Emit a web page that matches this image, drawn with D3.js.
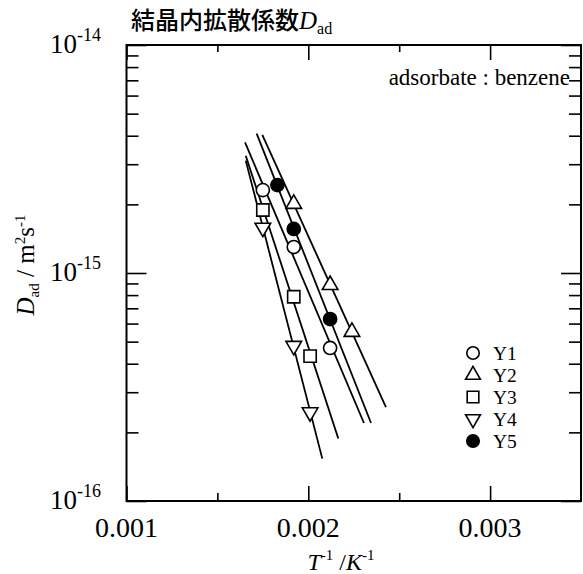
<!DOCTYPE html>
<html>
<head>
<meta charset="utf-8">
<script src="https://cdn.jsdelivr.net/npm/d3@7"></script>
<style>
  html, body { margin: 0; padding: 0; background: #fff; }
  svg { display: block; }
  .serif { font-family: "Liberation Serif", "DejaVu Serif", serif; }
</style>
</head>
<body>
<svg id="chart" width="583" height="574"></svg>
<script>
// Inverse temperature (1/T, K^-1) and intracrystalline diffusivity D_ad (m^2/s)
const seriesNames = ["Y1", "Y2", "Y3", "Y4", "Y5"];
const y1InvT = [0.00175, 0.00192, 0.00212];
const y1D    = [2.31e-15, 1.30e-15, 4.69e-16];
const y2InvT = [0.00192, 0.00212, 0.00224];
const y2D    = [2.01e-15, 8.86e-16, 5.52e-16];
const y3InvT = [0.00175, 0.00192, 0.00201];
const y3D    = [1.89e-15, 7.87e-16, 4.32e-16];
const y4InvT = [0.00175, 0.00192, 0.00201];
const y4D    = [1.58e-15, 4.79e-16, 2.45e-16];
const y5InvT = [0.00183, 0.00192, 0.00212];
const y5D    = [2.43e-15, 1.56e-15, 6.28e-16];
// 1/T span over which each Arrhenius fit line is drawn
const fitSpans = [[0.001652, 0.002306], [0.001747, 0.002427], [0.001656, 0.002165],
                  [0.001656, 0.002077], [0.001716, 0.002345]];

const xTickValues = [0.001, 0.002, 0.003];
const xMinorValues = [0.0015, 0.0025];
const yDecades = [-16, -15, -14];

const seriesX = [y1InvT, y2InvT, y3InvT, y4InvT, y5InvT];
const seriesY = [y1D, y2D, y3D, y4D, y5D];

const svg = d3.select("#chart");
const L = 126.5, R = 581, T = 45, B = 501;

const x = d3.scaleLinear().domain([0.001, 0.0035]).range([L, R]);
const y = d3.scaleLog().domain([1e-16, 1e-14]).range([B, T]);

const yMajor = yDecades.map(e => Math.pow(10, e));
const yMinor = [];
[-16, -15].forEach(e => { for (let k = 2; k <= 9; k++) yMinor.push(k * Math.pow(10, e)); });

// inward ticks on all four sides
function addAxis(axis, tr) {
  const g = svg.append("g").attr("transform", tr).call(axis);
  g.select(".domain").remove();
  g.selectAll("line").attr("stroke", "#000").attr("stroke-width", 1.6);
  g.selectAll("text").remove();
}
addAxis(d3.axisBottom(x).tickValues(xTickValues).tickSize(-15), `translate(0,${B})`);
addAxis(d3.axisBottom(x).tickValues(xMinorValues).tickSize(-8), `translate(0,${B})`);
addAxis(d3.axisTop(x).tickValues(xTickValues).tickSize(-15), `translate(0,${T})`);
addAxis(d3.axisTop(x).tickValues(xMinorValues).tickSize(-7), `translate(0,${T})`);
addAxis(d3.axisLeft(y).tickValues(yMajor).tickSize(-20), `translate(${L},0)`);
addAxis(d3.axisLeft(y).tickValues(yMinor).tickSize(-12), `translate(${L},0)`);
addAxis(d3.axisRight(y).tickValues(yMajor).tickSize(-20), `translate(${R},0)`);
addAxis(d3.axisRight(y).tickValues(yMinor).tickSize(-12), `translate(${R},0)`);

// frame
svg.append("rect").attr("x", L).attr("y", T).attr("width", R - L).attr("height", B - T)
  .attr("fill", "none").attr("stroke", "#000").attr("stroke-width", 2);

// x tick labels
svg.append("g").selectAll("text").data(xTickValues).join("text")
  .attr("class", "serif").attr("x", d => x(d)).attr("y", 537)
  .attr("text-anchor", "middle").attr("font-size", 28).text(d => d3.format(".3f")(d));

// y tick labels 10^n
const yl = svg.append("g").selectAll("text").data(yDecades).join("text")
  .attr("class", "serif").attr("x", 101).attr("y", d => y(Math.pow(10, d)) + 8)
  .attr("text-anchor", "end").attr("font-size", 27);
yl.append("tspan").text("10");
yl.append("tspan").attr("font-size", 18).attr("dy", -12).text(d => "-" + Math.abs(d));

// fit lines (least squares of log10 D against 1/T)
const line = d3.line().x(d => x(d[0])).y(d => y(d[1]));
seriesNames.forEach((name, i) => {
  const xs = seriesX[i], ls = seriesY[i].map(v => Math.log10(v));
  const mx = d3.mean(xs), ml = d3.mean(ls);
  const slope = d3.sum(xs, (v, j) => (v - mx) * (ls[j] - ml)) / d3.sum(xs, v => (v - mx) * (v - mx));
  const pts = fitSpans[i].map(v => [v, Math.pow(10, ml + slope * (v - mx))]);
  svg.append("path").attr("d", line(pts)).attr("fill", "none")
    .attr("stroke", "#000").attr("stroke-width", 1.8);
});

// markers
const symbolDefs = [
  { type: d3.symbolCircle, size: 135, fill: "#fff", rot: 0 },
  { type: d3.symbolTriangle, size: 105, fill: "#fff", rot: 0 },
  { type: d3.symbolSquare, size: 150, fill: "#fff", rot: 0 },
  { type: d3.symbolTriangle, size: 105, fill: "#fff", rot: 180 },
  { type: d3.symbolCircle, size: 135, fill: "#000", rot: 0 }
];
seriesNames.forEach((name, i) => {
  const s = symbolDefs[i];
  svg.append("g").selectAll("path").data(seriesX[i].map((v, j) => [v, seriesY[i][j]])).join("path")
    .attr("d", d3.symbol().type(s.type).size(s.size)())
    .attr("transform", d => `translate(${x(d[0])},${y(d[1])}) rotate(${s.rot})`)
    .attr("fill", s.fill).attr("stroke", "#000").attr("stroke-width", 1.6);
});

// legend
const lg = svg.append("g").selectAll("g").data(seriesNames).join("g")
  .attr("transform", (d, i) => `translate(473,${353 + i * 22})`);
lg.append("path")
  .attr("d", (d, i) => d3.symbol().type(symbolDefs[i].type).size(symbolDefs[i].size * 0.9)())
  .attr("transform", (d, i) => `rotate(${symbolDefs[i].rot})`)
  .attr("fill", (d, i) => symbolDefs[i].fill).attr("stroke", "#000").attr("stroke-width", 1.6);
lg.append("text").attr("class", "serif").attr("x", 20).attr("y", 7)
  .attr("font-size", 19.5).text(d => d);

// annotation
svg.append("text").attr("class", "serif").attr("x", 570).attr("y", 85)
  .attr("text-anchor", "end").attr("font-size", 23).text("adsorbate : benzene");

// title
const title = svg.append("text").attr("x", 131).attr("y", 29).attr("font-size", 24);
title.append("tspan").attr("font-family", "'Noto Sans CJK JP', sans-serif").attr("font-weight", 500)
  .text("結晶内拡散係数");
title.append("tspan").attr("class", "serif").attr("font-style", "italic").attr("font-size", 25).text("D");
title.append("tspan").attr("class", "serif").attr("font-size", 16).attr("dy", 5).text("ad");

// x axis title
const xt = svg.append("text").attr("class", "serif").attr("x", 341).attr("y", 570)
  .attr("text-anchor", "middle").attr("font-size", 24);
xt.append("tspan").attr("font-style", "italic").text("T");
xt.append("tspan").attr("font-size", 15).attr("dy", -10).text("-1");
xt.append("tspan").attr("dy", 10).text(" /");
xt.append("tspan").attr("font-style", "italic").text("K");
xt.append("tspan").attr("font-size", 15).attr("dy", -10).text("-1");

// y axis title
const yt = svg.append("text").attr("class", "serif")
  .attr("transform", "translate(34,265) rotate(-90)")
  .attr("text-anchor", "middle").attr("font-size", 25);
yt.append("tspan").attr("font-style", "italic").text("D");
yt.append("tspan").attr("font-size", 15).attr("dy", 5).text("ad");
yt.append("tspan").attr("dy", -5).text(" / m");
yt.append("tspan").attr("font-size", 15).attr("dy", -9).text("2");
yt.append("tspan").attr("dy", 9).text("s");
yt.append("tspan").attr("font-size", 15).attr("dy", -9).text("-1");
</script>
</body>
</html>
